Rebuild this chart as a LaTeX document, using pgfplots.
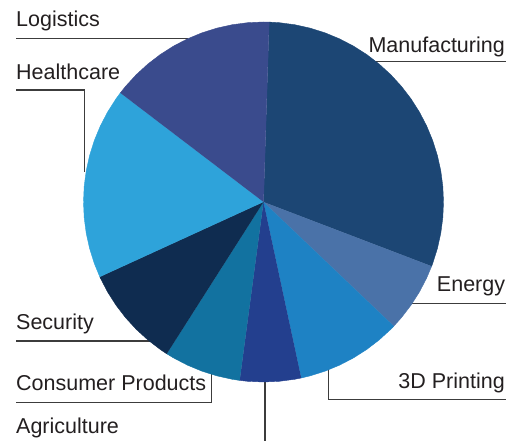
\documentclass[border=0pt]{standalone}
\usepackage{pgfplots}
\pgfplotsset{compat=1.18}
\usepackage{fontspec}
\setmainfont{Liberation Sans}

\definecolor{cManuf}{HTML}{1C4674}
\definecolor{cEnergy}{HTML}{4A72A8}
\definecolor{cPrint}{HTML}{1E82C4}
\definecolor{cAgri}{HTML}{233F8E}
\definecolor{cConsumer}{HTML}{1272A0}
\definecolor{cSecurity}{HTML}{0F2C50}
\definecolor{cHealth}{HTML}{2EA3DA}
\definecolor{cLogistics}{HTML}{3A4B8D}
\definecolor{labeltext}{HTML}{231F20}
\definecolor{leader}{HTML}{3C3C3C}

\begin{document}
\begin{tikzpicture}[
    lab/.style={inner sep=0pt, text=labeltext, font=\fontsize{21.5bp}{24bp}\selectfont},
  ]
\useasboundingbox (0,0) rectangle (524bp,441bp);
\begin{axis}[
    width=524bp, height=441bp,
    scale only axis,
    xmin=-263.5, xmax=260.5,
    ymin=-239, ymax=202,
    hide axis,
    clip=false,
    leader/.style={draw=leader, line width=1.2bp, mark=none},
    slice/.style={data cs=polar, line width=0.4bp, mark=none},
  ]

  % leader lines (under the pie)
  \addplot[leader] coordinates {(-247.5,163.7) (-76,163.7)};                 % Logistics
  \addplot[leader] coordinates {(-247.5,112) (-179.2,112) (-179.2,30.3)};    % Healthcare
  \addplot[leader] coordinates {(111,140.3) (242.5,140.3)};                  % Manufacturing
  \addplot[leader] coordinates {(148,-101.3) (242.5,-101.3)};                % Energy
  \addplot[leader] coordinates {(65.2,-166) (65.2,-197.3) (242.5,-197.3)};   % 3D Printing
  \addplot[leader] coordinates {(-247.5,-200.7) (-51.8,-200.7) (-51.8,-172)};% Consumer Products
  \addplot[leader] coordinates {(-247.5,-139) (-113,-139)};                  % Security
  \addplot[leader] coordinates {(1.5,-179) (1.5,-239)};                      % Agriculture

  % slices: (angle in degrees, radius)
  % Manufacturing
  \addplot[slice, fill=cManuf, draw=cManuf] coordinates {
    (0,0) (-20.9,180) (-20,180) (-15,180) (-10,180) (-5,180) (0,180) (5,180)
    (10,180) (15,180) (20,180) (25,180) (30,180) (35,180) (40,180) (45,180)
    (50,180) (55,180) (60,180) (65,180) (70,180) (75,180) (80,180) (85,180) (88.2,180)
  };
  % Energy
  \addplot[slice, fill=cEnergy, draw=cEnergy] coordinates {
    (0,0) (-43.6,180) (-40,180) (-35,180) (-30,180) (-25,180) (-20.9,180)
  };
  % 3D Printing
  \addplot[slice, fill=cPrint, draw=cPrint] coordinates {
    (0,0) (-77.9,180) (-75,180) (-70,180) (-65,180) (-60,180) (-55,180)
    (-50,180) (-45,180) (-43.6,180)
  };
  % Agriculture
  \addplot[slice, fill=cAgri, draw=cAgri] coordinates {
    (0,0) (-97.6,180) (-95,180) (-90,180) (-85,180) (-80,180) (-77.9,180)
  };
  % Consumer Products
  \addplot[slice, fill=cConsumer, draw=cConsumer] coordinates {
    (0,0) (-122.5,180) (-120,180) (-115,180) (-110,180) (-105,180) (-100,180) (-97.6,180)
  };
  % Security
  \addplot[slice, fill=cSecurity, draw=cSecurity] coordinates {
    (0,0) (-155.4,180) (-155,180) (-150,180) (-145,180) (-140,180) (-135,180)
    (-130,180) (-125,180) (-122.5,180)
  };
  % Healthcare
  \addplot[slice, fill=cHealth, draw=cHealth] coordinates {
    (0,0) (142.7,180) (145,180) (150,180) (155,180) (160,180) (165,180) (170,180)
    (175,180) (180,180) (185,180) (190,180) (195,180) (200,180) (204.6,180)
  };
  % Logistics
  \addplot[slice, fill=cLogistics, draw=cLogistics] coordinates {
    (0,0) (88.2,180) (90,180) (95,180) (100,180) (105,180) (110,180) (115,180)
    (120,180) (125,180) (130,180) (135,180) (140,180) (142.7,180)
  };

  % labels
  \node[lab, anchor=base west] at (axis cs:-247.5,175.3) {Logistics};
  \node[lab, anchor=base west] at (axis cs:-247.5,122) {Healthcare};
  \node[lab, anchor=base east] at (axis cs:241.5,149.7) {Manufacturing};
  \node[lab, anchor=base east] at (axis cs:241.8,-89.7) {Energy};
  \node[lab, anchor=base east] at (axis cs:241.5,-186.3) {3D Printing};
  \node[lab, anchor=base west] at (axis cs:-247.5,-127.3) {Security};
  \node[lab, anchor=base west] at (axis cs:-247.5,-188.7) {Consumer Products};
  \node[lab, anchor=base west] at (axis cs:-247.5,-231.3) {Agriculture};
\end{axis}
\end{tikzpicture}
\end{document}
